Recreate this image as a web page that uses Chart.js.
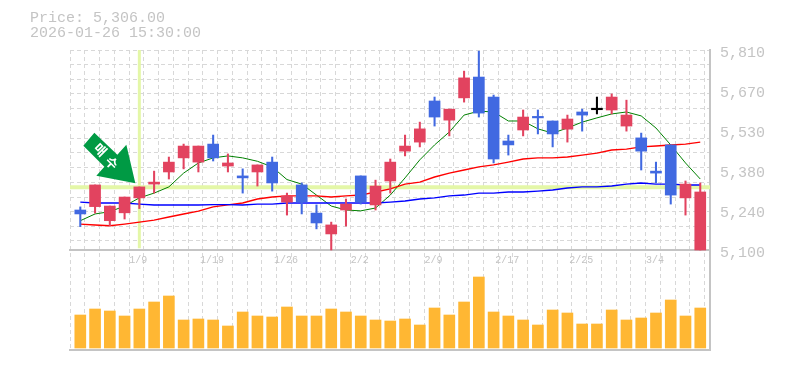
<!DOCTYPE html>
<html>
<head>
<meta charset="utf-8">
<style>
html,body{margin:0;padding:0;background:#fff;width:785px;height:370px;overflow:hidden}
#wrap{position:relative;width:785px;height:370px}
#info{position:absolute;left:30px;top:11px;font:15px/15px "Liberation Mono",monospace;color:#c4c4c4;white-space:pre}
canvas{position:absolute;left:0;top:0}
</style>
<script src="https://cdn.jsdelivr.net/npm/chart.js@4"></script>
</head>
<body>
<div id="wrap">
<canvas id="c" width="785" height="370"></canvas>
<div id="info">Price: 5,306.00
2026-01-26 15:30:00</div>
</div>
<script>
const opens  = [5242,5254,5204,5232,5285,5334,5377,5427,5412,5476,5398,5363,5377,5412,5270,5331,5231,5157,5242,5363,5260,5345,5451,5483,5629,5561,5640,5714,5643,5487,5526,5572,5558,5529,5590,5598,5597,5540,5498,5380,5473,5285,5100];
const closes = [5228,5331,5256,5288,5324,5341,5412,5469,5469,5427,5409,5356,5402,5338,5292,5270,5196,5189,5263,5270,5327,5412,5469,5530,5572,5600,5711,5586,5423,5473,5572,5569,5512,5565,5579,5598,5643,5579,5451,5373,5295,5334,5306];
const highs  = [5253,5331,5256,5288,5324,5380,5430,5476,5469,5508,5441,5388,5402,5430,5302,5338,5260,5199,5281,5363,5348,5423,5508,5554,5643,5600,5735,5806,5650,5508,5597,5597,5558,5579,5600,5643,5654,5632,5515,5412,5473,5345,5338];
const lows   = [5183,5231,5186,5210,5247,5302,5352,5388,5377,5416,5377,5302,5327,5309,5224,5228,5175,5100,5185,5263,5242,5302,5434,5466,5540,5505,5625,5572,5409,5437,5505,5512,5466,5483,5522,5583,5583,5522,5384,5338,5263,5224,5100];
const maShort = [5204,5228,5236,5256,5285,5302,5324,5373,5409,5427,5434,5427,5415,5395,5350,5334,5295,5256,5242,5239,5249,5295,5356,5420,5473,5519,5579,5593,5590,5558,5558,5530,5515,5533,5554,5569,5583,5590,5576,5533,5473,5409,5352];
const maMid   = [5192,5189,5186,5192,5199,5206,5217,5228,5238,5253,5260,5267,5281,5288,5292,5292,5292,5288,5292,5295,5306,5317,5334,5341,5359,5373,5384,5395,5402,5412,5423,5427,5427,5430,5437,5444,5455,5458,5466,5469,5473,5476,5483];
const maLong  = [5270,5267,5267,5267,5263,5260,5260,5260,5260,5261,5261,5260,5263,5263,5267,5267,5267,5267,5267,5267,5267,5270,5274,5281,5285,5292,5295,5302,5302,5306,5306,5309,5313,5320,5324,5324,5327,5334,5338,5334,5334,5331,5331];
const volumes = [33000,39000,37000,32000,39000,46000,52000,28000,29000,28000,22000,36000,32000,31000,41000,32000,32000,39000,36000,32000,28000,27000,29000,23000,40000,33000,46000,71000,36000,32000,28000,23000,38000,35000,24000,24000,38000,28000,30000,35000,48000,32000,40000];
const priceTicks = [5810,5668,5526,5384,5242,5100];
const priceTickLabels = ['5,810','5,670','5,530','5,380','5,240','5,100'];
const dateLabelIndex = [4,9,14,19,24,29,34,39];
const dateLabels = ['1/9','1/19','1/26','2/2','2/9','2/17','2/25','3/4'];
const gridPrices = [5810,5758,5706,5654,5601,5549,5497,5445,5393,5340,5288,5236,5184,5132];
const gridSlots = [-0.698,0.302,1.302,2.302,3.302,4.302,5.302,6.302,7.302,8.302,9.302,10.302,11.302,12.302,13.302,14.302,15.302,16.302,17.302,18.302,19.302,20.302,21.302,22.302,23.302,24.302,25.302,26.302,27.302,28.302,29.302,30.302,31.302,32.302,33.302,34.302,35.302,36.302,37.302,38.302,39.302,40.302,41.302,42.302];
const crossIndex = 4;
const crossPrice = 5323;
const arrowTipIndex = 4;
const arrowTipPrice = 5337;
const arrowText = ['매','수'];

const FONT = '"Liberation Mono", monospace';
const GREY = '#c4c4c4';
const idx = opens.map((_, i) => i);
const colorOf = i => closes[i] > opens[i] ? '#e2435f' : closes[i] < opens[i] ? '#4169e1' : '#000000';
const candleColors = idx.map(colorOf);
const xMin = -0.698, xMax = 42.66;

const arrowPlugin = {
  id: 'arrowMark',
  afterDatasetsDraw(chart) {
    const {ctx, scales} = chart;
    const tx = scales.x.getPixelForValue(arrowTipIndex) - 4;
    const ty = scales.y.getPixelForValue(arrowTipPrice);
    const shape = [[-41,-50.5],[-52,-37.5],[-31,-16.5],[-39,-7.5],[0,0],[-9,-38.5],[-18,-28.5]];
    ctx.save();
    ctx.fillStyle = '#009a44';
    ctx.beginPath();
    shape.forEach((p, i) => i ? ctx.lineTo(tx + p[0], ty + p[1]) : ctx.moveTo(tx + p[0], ty + p[1]));
    ctx.closePath();
    ctx.fill();
    ctx.fillStyle = '#ffffff';
    ctx.font = 'bold 13px "Noto Sans CJK KR"';
    ctx.textAlign = 'center';
    ctx.textBaseline = 'middle';
    [[-35,-33.5],[-23.5,-20.5]].forEach((p, i) => {
      ctx.save();
      ctx.translate(tx + p[0], ty + p[1]);
      ctx.rotate(Math.PI / 4);
      ctx.fillText(arrowText[i], 0, 0);
      ctx.restore();
    });
    ctx.restore();
  }
};

const lineSet = (data, color, width, order) => ({
  type: 'line',
  data: data.map((v, i) => ({x: i, y: v})),
  borderColor: color, borderWidth: width, pointRadius: 0, tension: 0,
  xAxisID: 'x', yAxisID: 'y', order
});

new Chart(document.getElementById('c'), {
  data: {
    datasets: [
      {type: 'bar', label: 'body', data: idx.map(i => ({x: i, y: [opens[i], closes[i]]})),
       backgroundColor: candleColors, barThickness: 11, minBarLength: 1.5, grouped: false,
       xAxisID: 'x', yAxisID: 'y', order: 1},
      {type: 'bar', label: 'wick', data: idx.map(i => ({x: i, y: [lows[i], highs[i]]})),
       backgroundColor: candleColors, barThickness: 1.4, grouped: false,
       xAxisID: 'x', yAxisID: 'y', order: 2},
      {type: 'bar', label: 'volume', data: idx.map(i => ({x: i, y: volumes[i]})),
       backgroundColor: '#ffb733', barThickness: 11, grouped: false,
       xAxisID: 'x', yAxisID: 'yVol', order: 3},
      lineSet(maLong, '#0000ff', 1.4, 4),
      lineSet(maMid, '#ff0000', 1.4, 5),
      lineSet(maShort, '#008000', 1, 6),
      {type: 'line', data: [{x: xMin, y: crossPrice}, {x: xMax, y: crossPrice}],
       borderColor: '#e4f7a8', borderWidth: 4, pointRadius: 0, xAxisID: 'x', yAxisID: 'y', order: 7},
      {type: 'line', data: [{x: crossIndex, y: 5810}, {x: crossIndex, y: 5106}],
       borderColor: '#e4f7a8', borderWidth: 3, pointRadius: 0, xAxisID: 'x', yAxisID: 'y', order: 7}
    ]
  },
  plugins: [arrowPlugin],
  options: {
    responsive: false, animation: false, events: [],
    layout: {autoPadding: false, padding: {top: 50, bottom: 20, left: 0, right: 0}},
    plugins: {legend: {display: false}, tooltip: {enabled: false}, title: {display: false}},
    scales: {
      x: {
        type: 'linear', offset: false, min: xMin, max: xMax, position: {y: 5100},
        afterBuildTicks: s => { s.ticks = gridSlots.map(v => ({value: v})); },
        grid: {color: '#d8d8d8', drawTicks: false, lineWidth: 1, offset: false},
        border: {color: GREY, width: 2, dash: [4, 3]},
        ticks: {
          autoSkip: false, maxRotation: 0, minRotation: 0, padding: 4, labelOffset: -5.5,
          color: GREY, font: {family: FONT, size: 10},
          callback: (v, k) => { const p = dateLabelIndex.indexOf(k - 1); return p >= 0 ? dateLabels[p] : ''; }
        }
      },
      xBase: {
        type: 'linear', offset: false, min: xMin, max: xMax, position: 'bottom',
        grid: {display: false, drawTicks: false}, border: {color: GREY, width: 2},
        ticks: {display: false}
      },
      y: {
        type: 'linear', min: 4745, max: 5810, position: 'right',
        afterFit: s => { s.width = 75; },
        afterBuildTicks: s => { s.ticks = priceTicks.map(v => ({value: v})); },
        grid: {display: false, drawTicks: false}, border: {color: GREY, width: 2},
        ticks: {
          padding: 10, labelOffset: 3.5, color: GREY, autoSkip: false,
          font: {family: FONT, size: 15},
          callback: (v, k) => priceTickLabels[k]
        }
      },
      yGrid: {
        type: 'linear', min: 4745, max: 5810, position: 'left',
        afterFit: s => { s.width = 70; },
        afterBuildTicks: s => { s.ticks = gridPrices.map(v => ({value: v})); },
        grid: {color: '#d8d8d8', drawTicks: false, lineWidth: 1},
        border: {display: false, dash: [4, 3]},
        ticks: {display: false}
      },
      yVol: {type: 'linear', min: -2000, max: 298000, display: false}
    }
  }
});
</script>
</body>
</html>
